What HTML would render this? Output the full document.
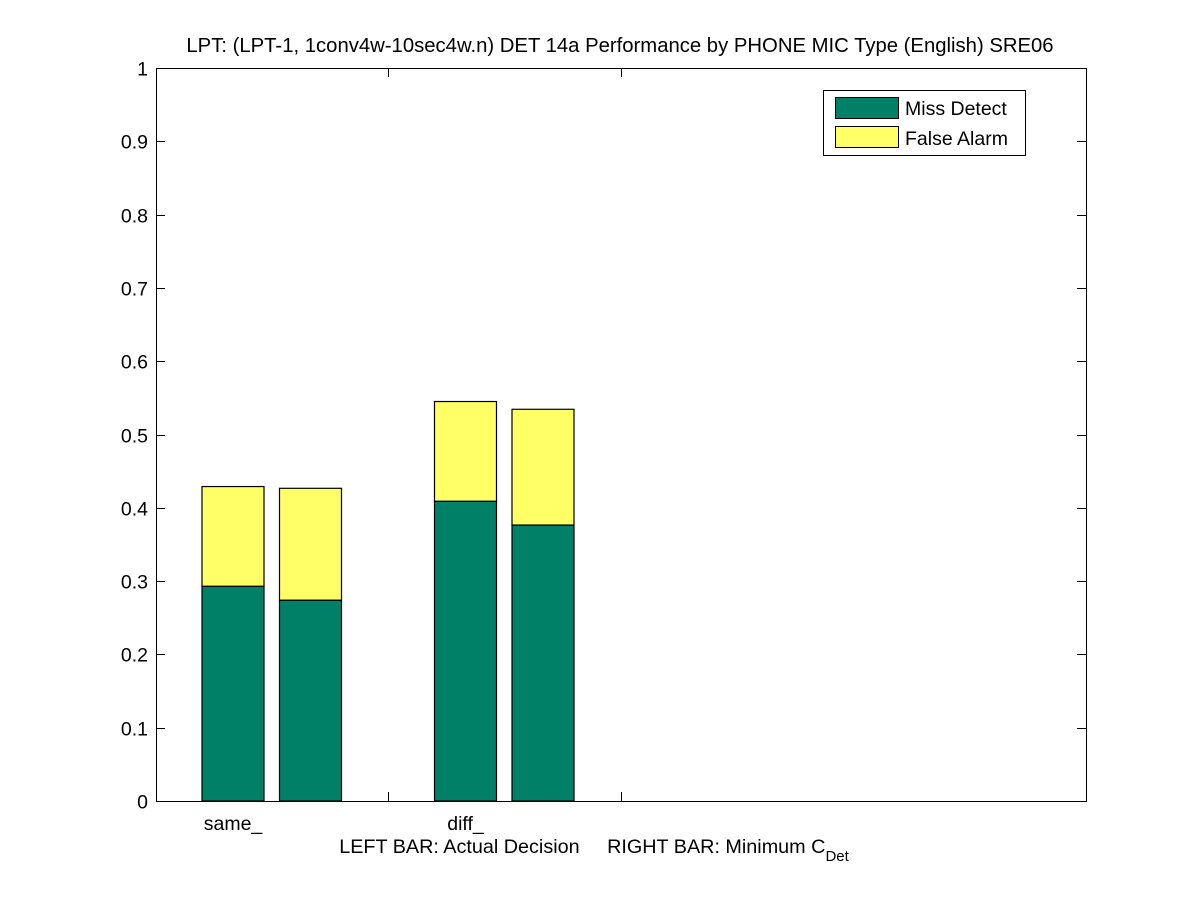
<!DOCTYPE html>
<html><head><meta charset="utf-8"><style>
html,body{margin:0;padding:0;background:#fff;}
svg{display:block;font-family:"Liberation Sans",sans-serif;}
</style></head><body>
<svg id="chart" width="1200" height="901" viewBox="0 0 1200 901" xmlns="http://www.w3.org/2000/svg">
<rect width="1200" height="901" fill="#fff"/>
<text x="620" y="52" font-size="20.3" text-anchor="middle">LPT: (LPT-1, 1conv4w-10sec4w.n) DET 14a Performance by PHONE MIC Type (English) SRE06</text>
<g id="bars"></g>
<g id="axes"></g>
<text x="594" y="853" font-size="19.8" text-anchor="middle">LEFT BAR: Actual Decision &#160;&#160;&#160;&#160;RIGHT BAR: Minimum C<tspan font-size="15" dy="8">Det</tspan></text>
<g>
<rect x="823.5" y="90.5" width="202" height="65" fill="#fff" stroke="#000" stroke-width="1"/>
<rect x="835.5" y="97.5" width="63" height="21" fill="#008066" stroke="#000"/>
<text x="905" y="115" font-size="19.5">Miss Detect</text>
<rect x="835.5" y="126.5" width="63" height="21" fill="#ffff66" stroke="#000"/>
<text x="905" y="145" font-size="19.5">False Alarm</text>
</g>
</svg>
<script>
const categories = ["same_", "diff_"];
const actualMiss = [0.293, 0.409];
const actualTotal = [0.429, 0.545];
const minMiss = [0.274, 0.3765];
const minTotal = [0.4266, 0.5344];
const yTicks = [0,0.1,0.2,0.3,0.4,0.5,0.6,0.7,0.8,0.9,1];
const yTickLabels = ["0","0.1","0.2","0.3","0.4","0.5","0.6","0.7","0.8","0.9","1"];

const NS="http://www.w3.org/2000/svg";
const L=156, R=1086, T=68, B=801;
function y(v){return B-(B-T)*v;}
function xc(i){return 233+i*232.5;}
function mk(tag,attrs,parent){const e=document.createElementNS(NS,tag);for(const k in attrs)e.setAttribute(k,attrs[k]);parent.appendChild(e);return e;}
const bars=document.getElementById('bars'), axes=document.getElementById('axes');
const W=62;
categories.forEach((c,i)=>{
  [[actualMiss,actualTotal,0,'actual'],[minMiss,minTotal,77.5,'min']].forEach(([m,t,off,nm])=>{
    const x0=xc(i)+off-W/2;
    const g=mk('rect',{x:x0,y:y(m[i]),width:W,height:y(0)-y(m[i]),fill:'#008066',stroke:'#000','stroke-width':1.2},bars);
    
    
    const f=mk('rect',{x:x0,y:y(t[i]),width:W,height:y(m[i])-y(t[i]),fill:'#ffff66',stroke:'#000','stroke-width':1.2},bars);
    
    
  });
  const lab=mk('text',{x:xc(i),y:830,'font-size':19.5,'text-anchor':'middle'},axes);
  lab.textContent=c;
  
  
});
const frame=mk('rect',{x:L+.5,y:T+.5,width:R-L,height:B-T,fill:'none',stroke:'#000','stroke-width':1},axes);


yTicks.forEach((v,k)=>{
  const yy=Math.round(y(v))+.5;
  mk('line',{x1:L,x2:L+9,y1:yy,y2:yy,stroke:'#000'},axes);
  mk('line',{x1:R-9,x2:R,y1:yy,y2:yy,stroke:'#000'},axes);
  const t=mk('text',{x:L-8,y:yy+7,'font-size':19.5,'text-anchor':'end'},axes);
  t.textContent=yTickLabels[k];
  
  
});
[388.5,621.5].forEach(xx=>{
  mk('line',{x1:xx,x2:xx,y1:B,y2:B-9,stroke:'#000'},axes);
  mk('line',{x1:xx,x2:xx,y1:T,y2:T+9,stroke:'#000'},axes);
});
</script>
</body></html>
